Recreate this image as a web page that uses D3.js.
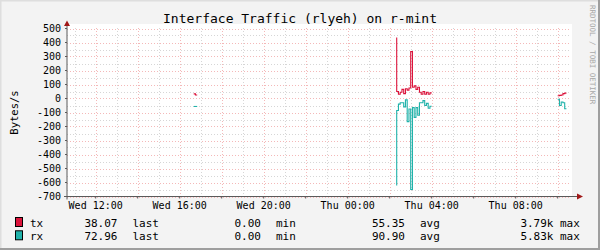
<!DOCTYPE html>
<html>
<head>
<meta charset="utf-8">
<script src="https://cdn.jsdelivr.net/npm/d3@7"></script>
<style>
  body { margin: 0; }
  text { font-family: "DejaVu Sans Mono", monospace; }
</style>
</head>
<body>
<div id="chart"></div>
<script>
// data, 5 minute steps from each segment start
var segmentStarts = ["2024-01-03 16:40", "2024-01-04 02:20", "2024-01-04 10:00"];
var txValues = [
  [33, 33, 25],
  [436, 50, 30, 45, 65, 35, 70, 60, 75, 336, 80, 90, 65, 80, 45, 30, 50, 30, 45, 30, 40],
  [20, 20, 22, 25, 35, 38.07]
];
var rxValues = [
  [-57, -57, -57],
  [-621, -86, -40, -30, -30, -60, -10, -165, -75, -650, -65, -135, -65, -120, -30, -30, -15, -50, -35, -70, -55],
  [-5, -5, -50, -25, -30, -72.96]
];
var yTicks = [500, 400, 300, 200, 100, 0, -100, -200, -300, -400, -500, -600, -700];

// legend
var seriesNames = ["tx", "rx"];
var seriesColors = ["#dc143c", "#20b2aa"];
var lastValues = ["38.07", "72.96"];
var minValues = ["0.00", "0.00"];
var avgValues = ["55.35", "90.90"];
var maxValues = ["3.79k", "5.83k"];

// dimensions
var svgWidth = 600;
var svgHeight = 250;
var plot = { left: 67, right: 571, top: 28.5, bottom: 196.5 };

var parseTime = d3.timeParse("%Y-%m-%d %H:%M");

var svg = d3.select("#chart").append("svg")
  .attr("width", svgWidth)
  .attr("height", svgHeight);

// background + 3d border
svg.append("rect").attr("width", svgWidth).attr("height", svgHeight).attr("fill", "#f3f3f3");
svg.append("path").attr("d", "M0,250V0H600").attr("fill", "none").attr("stroke", "#dedede").attr("stroke-width", 3);
svg.append("path").attr("d", "M0,249H599V0").attr("fill", "none").attr("stroke", "#9e9e9e").attr("stroke-width", 2);

// canvas
svg.append("rect")
  .attr("x", plot.left).attr("y", 24)
  .attr("width", plot.right - plot.left + 1).attr("height", plot.bottom - 24)
  .attr("fill", "#ffffff");

// scales
var xScale = d3.scaleTime()
  .domain([parseTime("2024-01-03 10:38"), parseTime("2024-01-04 10:38")])
  .range([plot.left, plot.right]);

var yScale = d3.scaleLinear()
  .domain([-700, 500])
  .range([plot.bottom, plot.top]);

// grid
var minorX = xScale.ticks(d3.timeHour.every(1));
var majorX = xScale.ticks(d3.timeHour.every(2));
var labelX = xScale.ticks(d3.timeHour.every(4));
var minorY = d3.range(-650, 500, 100);

var gridGroup = svg.append("g").attr("stroke-dasharray", "1,2").attr("shape-rendering", "crispEdges");

gridGroup.selectAll(".minor-x").data(minorX).enter().append("line")
  .attr("x1", d => Math.round(xScale(d)) + 0.5).attr("x2", d => Math.round(xScale(d)) + 0.5)
  .attr("y1", plot.bottom).attr("y2", 26)
  .attr("stroke", "#d6d6d6");

gridGroup.selectAll(".minor-y").data(minorY).enter().append("line")
  .attr("x1", plot.left).attr("x2", plot.right)
  .attr("y1", d => Math.round(yScale(d)) + 0.5).attr("y2", d => Math.round(yScale(d)) + 0.5)
  .attr("stroke", "#d6d6d6");

gridGroup.selectAll(".major-x").data(majorX).enter().append("line")
  .attr("x1", d => Math.round(xScale(d)) + 0.5).attr("x2", d => Math.round(xScale(d)) + 0.5)
  .attr("y1", plot.bottom).attr("y2", 26)
  .attr("stroke", "#f4b8b8");

gridGroup.selectAll(".major-y").data(yTicks).enter().append("line")
  .attr("x1", plot.left).attr("x2", plot.right)
  .attr("y1", d => Math.round(yScale(d)) + 0.5).attr("y2", d => Math.round(yScale(d)) + 0.5)
  .attr("stroke", "#f4b8b8");

// lines
var line = d3.line()
  .x(d => xScale(d.time))
  .y(d => yScale(d.value))
  .curve(d3.curveStepBefore);

function toPoints(values, i) {
  var start = parseTime(segmentStarts[i]);
  return values.map((v, j) => ({ time: d3.timeMinute.offset(start, j * 5), value: v }));
}

[txValues, rxValues].forEach(function(series, s) {
  svg.append("g").selectAll("path")
    .data(series.map(toPoints))
    .enter().append("path")
    .attr("d", line)
    .attr("fill", "none")
    .attr("stroke", seriesColors[s])
    .attr("stroke-width", 1.1);
});

// axes
var axisColor = "#5a5a5a";
svg.append("line")
  .attr("x1", plot.left).attr("x2", plot.left)
  .attr("y1", plot.bottom + 3).attr("y2", 24)
  .attr("stroke", axisColor);
svg.append("line")
  .attr("x1", plot.left - 3).attr("x2", 578)
  .attr("y1", plot.bottom).attr("y2", plot.bottom)
  .attr("stroke", axisColor);
svg.append("path")
  .attr("d", `M${plot.left - 3},26L${plot.left},20.5L${plot.left + 3},26Z`)
  .attr("fill", "#a01818");
svg.append("path")
  .attr("d", `M577,${plot.bottom - 3}L583,${plot.bottom}L577,${plot.bottom + 3}Z`)
  .attr("fill", "#a01818");

// ticks
svg.append("g").selectAll("line").data(yTicks).enter().append("line")
  .attr("x1", plot.left - 2).attr("x2", plot.left)
  .attr("y1", d => yScale(d)).attr("y2", d => yScale(d))
  .attr("stroke", axisColor);
svg.append("g").selectAll("line").data(majorX).enter().append("line")
  .attr("x1", d => xScale(d)).attr("x2", d => xScale(d))
  .attr("y1", plot.bottom).attr("y2", plot.bottom + 2)
  .attr("stroke", axisColor);

// tick labels
svg.append("g").selectAll("text").data(yTicks).enter().append("text")
  .attr("x", 61)
  .attr("y", d => yScale(d))
  .attr("dy", "0.36em")
  .attr("text-anchor", "end")
  .attr("font-size", "10px")
  .text(d => d);

var timeFormat = d3.timeFormat("%a %H:%M");
svg.append("g").selectAll("text").data(labelX).enter().append("text")
  .attr("x", d => xScale(d))
  .attr("y", 209)
  .attr("text-anchor", "middle")
  .attr("font-size", "10px")
  .text(d => timeFormat(d));

// title, axis label, watermark
svg.append("text")
  .attr("x", 300).attr("y", 23)
  .attr("text-anchor", "middle")
  .attr("font-size", "13px")
  .text("Interface Traffic (rlyeh) on r-mint");

svg.append("text")
  .attr("transform", `translate(18, ${(plot.top + plot.bottom) / 2}) rotate(-90)`)
  .attr("text-anchor", "middle")
  .attr("font-size", "10.5px")
  .text("Bytes/s");

svg.append("text")
  .attr("transform", "translate(589.5, 5) rotate(90)")
  .attr("font-size", "7.5px")
  .attr("fill", "#a8a8a8")
  .text("RRDTOOL / TOBI OETIKER");

// legend
var legend = svg.append("g").attr("font-size", "11px");
seriesNames.forEach(function(name, i) {
  var y = 227 + i * 13.3;
  legend.append("rect")
    .attr("x", 15.5).attr("y", y - 9.5)
    .attr("width", 7).attr("height", 9)
    .attr("fill", seriesColors[i])
    .attr("stroke", "#000");
  legend.append("text").attr("x", 30).attr("y", y).text(name);
  legend.append("text").attr("x", 117.5).attr("y", y).attr("text-anchor", "end").text(lastValues[i]);
  legend.append("text").attr("x", 132.5).attr("y", y).text("last");
  legend.append("text").attr("x", 261).attr("y", y).attr("text-anchor", "end").text(minValues[i]);
  legend.append("text").attr("x", 276).attr("y", y).text("min");
  legend.append("text").attr("x", 405).attr("y", y).attr("text-anchor", "end").text(avgValues[i]);
  legend.append("text").attr("x", 420).attr("y", y).text("avg");
  legend.append("text").attr("x", 553.5).attr("y", y).attr("text-anchor", "end").text(maxValues[i]);
  legend.append("text").attr("x", 560).attr("y", y).text("max");
});
</script>
</body>
</html>
